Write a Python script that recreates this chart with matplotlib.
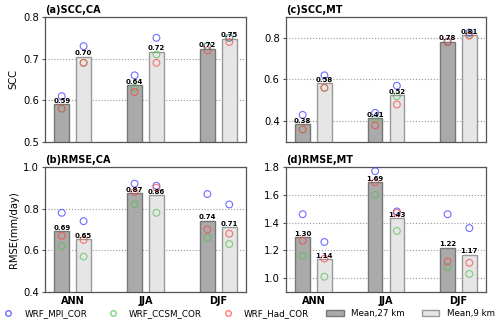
import matplotlib
matplotlib.use('Agg')
from matplotlib import pyplot as plt
from matplotlib.lines import Line2D
from matplotlib.patches import Patch
import numpy as np

seasons = ['ANN', 'JJA', 'DJF']

# panel a: SCC, CA
scc_ca_27 = [0.590, 0.637, 0.724]
scc_ca_9 = [0.705, 0.717, 0.748]
scc_ca_mpi_27 = [0.61, 0.66, 0.73]
scc_ca_ccsm_27 = [0.58, 0.63, 0.73]
scc_ca_had_27 = [0.58, 0.62, 0.72]
scc_ca_mpi_9 = [0.73, 0.75, 0.75]
scc_ca_ccsm_9 = [0.69, 0.71, 0.75]
scc_ca_had_9 = [0.69, 0.69, 0.74]

# panel b: RMSE, CA
rmse_ca_27 = [0.693, 0.874, 0.742]
rmse_ca_9 = [0.654, 0.864, 0.710]
rmse_ca_mpi_27 = [0.78, 0.92, 0.87]
rmse_ca_ccsm_27 = [0.62, 0.82, 0.66]
rmse_ca_had_27 = [0.67, 0.88, 0.70]
rmse_ca_mpi_9 = [0.74, 0.91, 0.82]
rmse_ca_ccsm_9 = [0.57, 0.78, 0.63]
rmse_ca_had_9 = [0.65, 0.90, 0.68]

# panel c: SCC, MT
scc_mt_27 = [0.384, 0.413, 0.782]
scc_mt_9 = [0.582, 0.524, 0.814]
scc_mt_mpi_27 = [0.43, 0.44, 0.78]
scc_mt_ccsm_27 = [0.36, 0.41, 0.78]
scc_mt_had_27 = [0.36, 0.38, 0.78]
scc_mt_mpi_9 = [0.62, 0.57, 0.825]
scc_mt_ccsm_9 = [0.56, 0.52, 0.815]
scc_mt_had_9 = [0.56, 0.48, 0.81]

# panel d: RMSE, MT
rmse_mt_27 = [1.296, 1.689, 1.219]
rmse_mt_9 = [1.137, 1.431, 1.169]
rmse_mt_mpi_27 = [1.46, 1.77, 1.46]
rmse_mt_ccsm_27 = [1.16, 1.60, 1.08]
rmse_mt_had_27 = [1.27, 1.69, 1.12]
rmse_mt_mpi_9 = [1.26, 1.48, 1.36]
rmse_mt_ccsm_9 = [1.01, 1.34, 1.03]
rmse_mt_had_9 = [1.14, 1.47, 1.11]

C_MPI = '#3030ff'
C_CCSM = '#50c050'
C_HAD = '#ff4040'
DARK = '#aaaaaa'
LIGHT = '#e6e6e6'


def draw_panel(ax, title, b27, b9, m27, m9, ylim, yticks, fmt):
    x = np.arange(len(seasons))
    w = 0.2
    off = 0.15
    ax.bar(x - off, b27, w, color=DARK, edgecolor='#777777', linewidth=1.0, zorder=2)
    ax.bar(x + off, b9, w, color=LIGHT, edgecolor='#999999', linewidth=1.0, zorder=2)
    for xs, vals in ((x - off, b27), (x + off, b9)):
        for xi, v in zip(xs, vals):
            ax.text(xi, v + (ylim[1] - ylim[0]) * 0.003, fmt % v, ha='center', va='bottom',
                    fontsize=5, fontweight='bold', zorder=4)
    for xs, ms in ((x - off, m27), (x + off, m9)):
        for vals, c in zip(ms, (C_MPI, C_CCSM, C_HAD)):
            ax.scatter(xs, vals, s=24, facecolors='none', edgecolors=c, linewidths=0.8,
                       alpha=0.7, zorder=3)
    ax.set_xlim(-0.38, 2.38)
    ax.set_ylim(*ylim)
    ax.set_yticks(yticks)
    ax.yaxis.grid(True, linestyle=':', color='#999999', linewidth=0.8)
    ax.set_axisbelow(True)
    ax.set_xticks(x)
    ax.tick_params(axis='x', length=0)
    ax.tick_params(axis='y', labelsize=7.2, length=2.5, width=0.8, color='#555555', pad=2)
    for s in ax.spines.values():
        s.set_color('#555555')
        s.set_linewidth(0.9)
    ax.set_title(title, loc='left', fontsize=7, fontweight='bold', pad=3)


def main():
    fig = plt.figure(figsize=(5, 3.23), dpi=100)
    ax_a = fig.add_axes([0.09, 0.5604, 0.402, 0.387])
    ax_c = fig.add_axes([0.572, 0.5604, 0.400, 0.387])
    ax_b = fig.add_axes([0.09, 0.096, 0.402, 0.387])
    ax_d = fig.add_axes([0.572, 0.096, 0.400, 0.387])

    draw_panel(ax_a, '(a)SCC,CA', scc_ca_27, scc_ca_9,
               [scc_ca_mpi_27, scc_ca_ccsm_27, scc_ca_had_27],
               [scc_ca_mpi_9, scc_ca_ccsm_9, scc_ca_had_9],
               (0.5, 0.8), [0.5, 0.6, 0.7, 0.8], '%.2f')
    draw_panel(ax_c, '(c)SCC,MT', scc_mt_27, scc_mt_9,
               [scc_mt_mpi_27, scc_mt_ccsm_27, scc_mt_had_27],
               [scc_mt_mpi_9, scc_mt_ccsm_9, scc_mt_had_9],
               (0.3, 0.9), [0.4, 0.6, 0.8], '%.2f')
    draw_panel(ax_b, '(b)RMSE,CA', rmse_ca_27, rmse_ca_9,
               [rmse_ca_mpi_27, rmse_ca_ccsm_27, rmse_ca_had_27],
               [rmse_ca_mpi_9, rmse_ca_ccsm_9, rmse_ca_had_9],
               (0.4, 1.0), [0.4, 0.6, 0.8, 1.0], '%.2f')
    draw_panel(ax_d, '(d)RMSE,MT', rmse_mt_27, rmse_mt_9,
               [rmse_mt_mpi_27, rmse_mt_ccsm_27, rmse_mt_had_27],
               [rmse_mt_mpi_9, rmse_mt_ccsm_9, rmse_mt_had_9],
               (0.9, 1.8), [1.0, 1.2, 1.4, 1.6, 1.8], '%.2f')

    for ax in (ax_a, ax_c):
        ax.set_xticklabels([])
    for ax in (ax_b, ax_d):
        ax.set_xticklabels(seasons, fontsize=7, fontweight='bold')
        ax.tick_params(axis='x', pad=3)
    ax_a.set_ylabel('SCC', fontsize=7.2, labelpad=3)
    ax_b.set_ylabel('RMSE(mm/day)', fontsize=7.2, labelpad=3)

    handles = [
        Line2D([], [], marker='o', linestyle='none', markerfacecolor='none',
               markeredgecolor=C_MPI, alpha=0.7, markersize=4),
        Line2D([], [], marker='o', linestyle='none', markerfacecolor='none',
               markeredgecolor=C_CCSM, alpha=0.7, markersize=4),
        Line2D([], [], marker='o', linestyle='none', markerfacecolor='none',
               markeredgecolor=C_HAD, alpha=0.7, markersize=4),
        Patch(facecolor=DARK, edgecolor='#777777'),
        Patch(facecolor=LIGHT, edgecolor='#999999'),
    ]
    labels = ['WRF_MPI_COR', 'WRF_CCSM_COR', 'WRF_Had_COR', 'Mean,27 km', 'Mean,9 km']
    fig.legend(handles, labels, loc='center', bbox_to_anchor=(0.494, 0.03), ncol=5,
               frameon=False, fontsize=6.3, handlelength=2.0, columnspacing=1.9,
               handletextpad=0.9, handleheight=0.6, borderpad=0.1, borderaxespad=0)

    fig.savefig('out.png', dpi=100)


if __name__ == '__main__':
    main()
